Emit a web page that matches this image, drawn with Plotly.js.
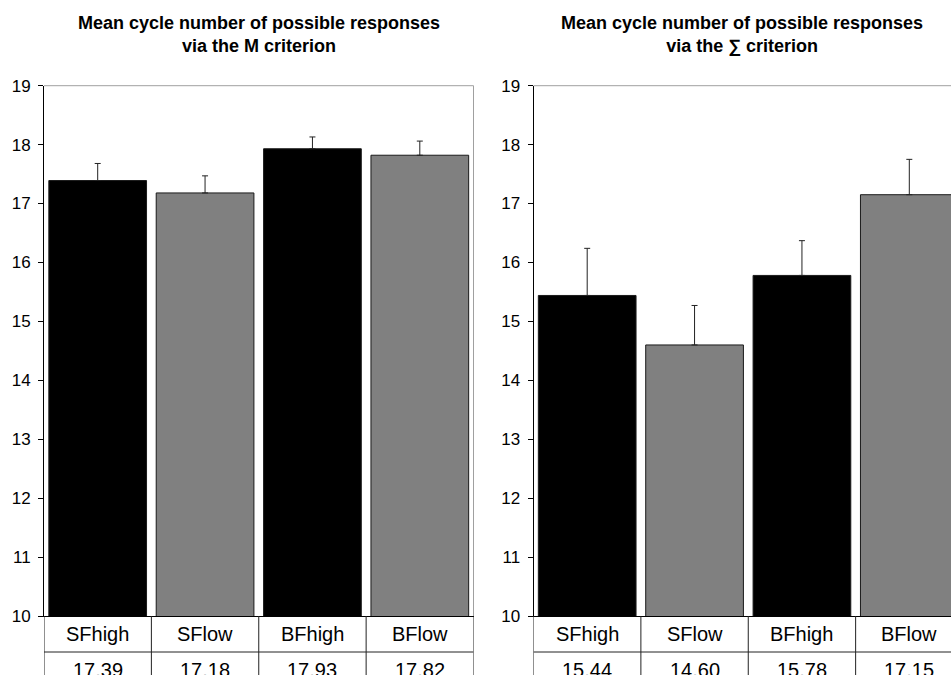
<!DOCTYPE html>
<html>
<head>
<meta charset="utf-8">
<script src="https://cdn.plot.ly/plotly-3.0.1.min.js"></script>
<style>html,body{margin:0;padding:0;background:#fff;}#chart{width:951px;height:675px;}</style>
</head>
<body>
<div id="chart"></div>
<script>
// ---- data ----
const categories = ["SFhigh", "SFlow", "BFhigh", "BFlow"];
const meansM = [17.39, 17.18, 17.93, 17.82];
const errorsM = [0.29, 0.29, 0.20, 0.24];
const meansSum = [15.44, 14.60, 15.78, 17.15];
const errorsSum = [0.80, 0.67, 0.59, 0.60];
const titleM = "Mean cycle number of possible responses<br>via the M criterion";
const titleSum = "Mean cycle number of possible responses<br>via the \u2211 criterion";
const yTicks = [10, 11, 12, 13, 14, 15, 16, 17, 18, 19];

// ---- styles ----
const FONT = "Liberation Sans, Arial, Helvetica, sans-serif";
const barColors = ["#000000", "#808080", "#000000", "#808080"];
const W = 951, H = 675;
const px = v => v / W;
const py = v => 1 - v / H;

const plotTop = 85.7, plotBottom = 616;
const leftL = 44, leftR = 473.5, rightL = 533.5;
const catW = (leftR - leftL) / categories.length;
const rightRangeMax = -0.5 + (W - rightL) / catW;

function barTrace(vals, errs, xa, ya) {
  return {
    type: "bar", x: categories, y: vals, xaxis: xa, yaxis: ya,
    width: 0.91,
    marker: { color: barColors, line: { color: "#1a1a1a", width: 1 } },
    error_y: { type: "data", symmetric: false, array: errs, arrayminus: errs.map(() => 0),
               color: "#222", thickness: 1, width: 3 },
    hoverinfo: "none", showlegend: false
  };
}

const data = [
  barTrace(meansM, errorsM, "x", "y"),
  barTrace(meansSum, errorsSum, "x2", "y2")
];

const yAxisBase = {
  range: [10, 19], tickvals: yTicks, showgrid: false, zeroline: false,
  showline: true, linecolor: "#000", linewidth: 1,
  ticks: "outside", ticklen: 5, tickcolor: "#000",
  tickfont: { family: FONT, size: 17, color: "#000" },
  ticklabelstandoff: 4,
  domain: [py(plotBottom), py(plotTop)], fixedrange: true
};
const xAxisBase = {
  type: "category", showticklabels: false, ticks: "", showgrid: false, zeroline: false,
  showline: true, linecolor: "#000", linewidth: 1, fixedrange: true
};

const layout = {
  width: W, height: H, margin: { l: 0, r: 0, t: 0, b: 0 },
  paper_bgcolor: "#fff", plot_bgcolor: "#fff",
  bargap: 0.09,
  xaxis: Object.assign({}, xAxisBase, { domain: [px(leftL), px(leftR)], range: [-0.5, 3.5], anchor: "y" }),
  yaxis: Object.assign({}, yAxisBase, { anchor: "x" }),
  xaxis2: Object.assign({}, xAxisBase, { domain: [px(rightL), 1], range: [-0.5, rightRangeMax], anchor: "y2" }),
  yaxis2: Object.assign({}, yAxisBase, { anchor: "x2" }),
  shapes: [],
  annotations: []
};

// plot frames (top + right in grey)
layout.shapes.push({ type: "line", xref: "x domain", yref: "y domain", x0: 0, x1: 1, y0: 1, y1: 1, line: { color: "#a0a0a0", width: 1 } });
layout.shapes.push({ type: "line", xref: "x domain", yref: "y domain", x0: 1, x1: 1, y0: 0, y1: 1, line: { color: "#a0a0a0", width: 1 } });
layout.shapes.push({ type: "line", xref: "x2 domain", yref: "y2 domain", x0: 0, x1: 1, y0: 1, y1: 1, line: { color: "#a0a0a0", width: 1 } });

// data tables below each plot
const rowLineY = py(652), tableBottom = -0.2;
const labelY = py(633.5), valueY = py(670);
function addTable(xref, means) {
  for (let i = 0; i <= categories.length; i++) {
    layout.shapes.push({ type: "line", xref: xref, yref: "paper", x0: i - 0.5, x1: i - 0.5,
      y0: py(plotBottom), y1: tableBottom, line: { color: "#222", width: 1 } });
  }
  layout.shapes.push({ type: "line", xref: xref, yref: "paper", x0: -0.5, x1: categories.length - 0.5,
    y0: rowLineY, y1: rowLineY, line: { color: "#222", width: 1 } });
  categories.forEach((c, i) => {
    layout.annotations.push({ xref: xref, yref: "paper", x: i, y: labelY, text: c, showarrow: false,
      xanchor: "center", yanchor: "middle", font: { family: FONT, size: 20, color: "#000" } });
    layout.annotations.push({ xref: xref, yref: "paper", x: i, y: valueY, text: means[i].toFixed(2), showarrow: false,
      xanchor: "center", yanchor: "middle", font: { family: FONT, size: 20, color: "#000" } });
  });
}
addTable("x", meansM);
addTable("x2", meansSum);

// titles
layout.annotations.push({ xref: "paper", yref: "paper", x: px(259), y: py(34.5), text: "<b>" + titleM + "</b>",
  showarrow: false, xanchor: "center", yanchor: "middle", font: { family: FONT, size: 18, color: "#000" } });
layout.annotations.push({ xref: "paper", yref: "paper", x: px(742), y: py(34.5), text: "<b>" + titleSum + "</b>",
  showarrow: false, xanchor: "center", yanchor: "middle", font: { family: FONT, size: 18, color: "#000" } });

Plotly.newPlot("chart", data, layout, { staticPlot: true, displayModeBar: false });
</script>
</body>
</html>
